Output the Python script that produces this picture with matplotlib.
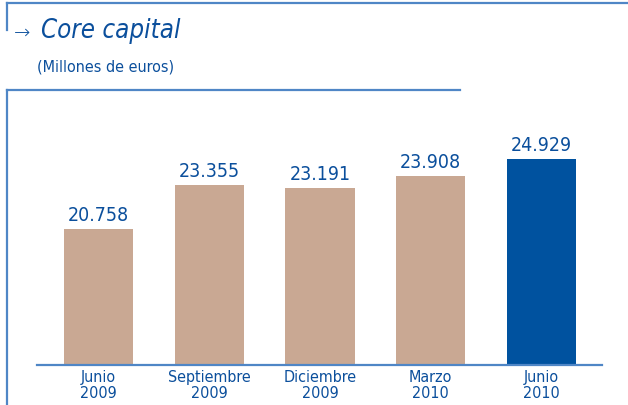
import matplotlib
matplotlib.use("Agg")
import matplotlib.pyplot as plt
from matplotlib.lines import Line2D

categories = ["Junio\n2009", "Septiembre\n2009", "Diciembre\n2009", "Marzo\n2010", "Junio\n2010"]
values = [20758, 23355, 23191, 23908, 24929]
labels = ["20.758", "23.355", "23.191", "23.908", "24.929"]
colors = ["#C9A893", "#C9A893", "#C9A893", "#C9A893", "#00529F"]

plt.rcParams['font.family'] = ['DejaVu Sans']
plt.rcParams['font.stretch'] = 'condensed'

W, H = 628, 405
fig = plt.figure(figsize=(W / 100, H / 100), dpi=100)

def fx(px):
    return px / W

def fy(py):
    return 1 - py / H

line_c = "#4F86C6"
# frame lines
fig.add_artist(Line2D([fx(7), fx(628)], [fy(3), fy(3)], color=line_c, lw=1.6))
fig.add_artist(Line2D([fx(7), fx(7)], [fy(3), fy(30)], color=line_c, lw=1.6))
fig.add_artist(Line2D([fx(7), fx(460)], [fy(90), fy(90)], color=line_c, lw=1.6))
fig.add_artist(Line2D([fx(7), fx(7)], [fy(90), fy(405)], color=line_c, lw=1.6))

title_c = "#0B4F9C"
fig.text(fx(14), fy(38), "\u2192", color=title_c, fontsize=14, fontstretch='normal',
         fontweight='light', va='baseline', ha='left')
fig.text(fx(41), fy(38), "Core capital", color=title_c, fontsize=18.5, style='italic',
         va='baseline', ha='left')
fig.text(fx(37), fy(71), "(Millones de euros)", color=title_c, fontsize=11.5,
         va='baseline', ha='left')

ax_left, ax_right, ax_bottom, ax_top = 37, 602, 365, 100
ax = fig.add_axes([fx(ax_left), fy(ax_bottom), fx(ax_right - ax_left), (ax_bottom - ax_top) / H])
x = list(range(len(values)))
bars = ax.bar(x, values, width=0.623, color=colors, zorder=2)
ax.set_xlim(-0.555, 4.546)
ax.set_ylim(12653, 28446)

for b, lab in zip(bars, labels):
    ax.annotate(lab, (b.get_x() + b.get_width() / 2, b.get_height()),
                xytext=(0, 3), textcoords='offset points', ha='center', va='bottom',
                color=title_c, fontsize=14)

for s in ['top', 'right', 'left']:
    ax.spines[s].set_visible(False)
ax.spines['bottom'].set_color(line_c)
ax.spines['bottom'].set_linewidth(1.6)
ax.set_yticks([])
ax.set_xticks(x)
ax.set_xticklabels(categories, color=title_c, fontsize=11.5, linespacing=1.1)
ax.tick_params(axis='x', length=0, pad=3.5)

fig.savefig("out.png", dpi=100)
